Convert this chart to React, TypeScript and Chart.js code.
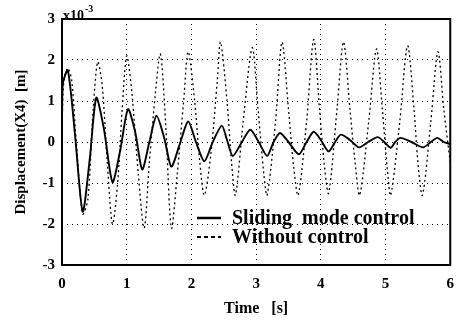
import React, { useEffect, useRef } from "react";
import { Chart, registerables } from "chart.js";

Chart.register(...registerables);

// Time [s] and displacement [x10^-3 m]
const timeSliding = [
  0, 0.01, 0.09, 0.2, 0.32, 0.43, 0.53, 0.65, 0.78, 0.9, 1.02, 1.13, 1.24, 1.35, 1.46, 1.58, 1.69, 1.82,
  1.95, 2.07, 2.2, 2.33, 2.47, 2.55, 2.64, 2.78, 2.91, 3.04, 3.17, 3.27, 3.37, 3.5, 3.66, 3.78, 3.89, 4.0,
  4.12, 4.22, 4.31, 4.45, 4.59, 4.73, 4.88, 4.98, 5.08, 5.15, 5.23, 5.4, 5.58, 5.7, 5.8, 5.9, 6.0,
];
const valuesSliding = [
  0.4, 1.4, 1.75, 0.2, -1.7, -0.4, 1.08, 0.3, -0.98, -0.2, 0.8, 0.25, -0.67, 0.0, 0.64, 0.1, -0.6, -0.05,
  0.5, 0.0, -0.47, 0.0, 0.4, 0.05, -0.34, 0.0, 0.3, 0.0, -0.34, 0.0, 0.22, 0.0, -0.3, 0.0, 0.25, 0.05,
  -0.23, 0.0, 0.18, 0.05, -0.13, 0.0, 0.12, 0.0, -0.14, 0.0, 0.1, 0.0, -0.13, 0.0, 0.1, 0.0, -0.05,
];

const timeWithout = [
  0, 0.03, 0.09, 0.15, 0.22, 0.32, 0.4, 0.47, 0.55, 0.62, 0.7, 0.78, 0.86, 0.93, 1.0, 1.08, 1.18, 1.27,
  1.35, 1.45, 1.52, 1.6, 1.69, 1.78, 1.88, 1.95, 2.05, 2.13, 2.2, 2.3, 2.4, 2.45, 2.55, 2.62, 2.68, 2.8,
  2.94, 3.03, 3.12, 3.17, 3.3, 3.4, 3.5, 3.58, 3.65, 3.78, 3.89, 3.98, 4.05, 4.12, 4.25, 4.35, 4.45, 4.53,
  4.6, 4.74, 4.86, 4.95, 5.03, 5.08, 5.22, 5.34, 5.44, 5.5, 5.57, 5.7, 5.81, 5.9, 6.0,
];
const valuesWithout = [
  0.4, 1.5, 1.8, 1.5, 0.0, -1.75, -1.4, 0.5, 1.95, 1.4, -0.5, -2.0, -1.0, 0.8, 2.1, 1.2, -0.8, -2.1,
  -0.5, 1.3, 2.15, 0.5, -2.1, -0.8, 1.0, 2.2, 1.0, -0.5, -1.3, -0.3, 1.5, 2.44, 1.0, -0.5, -1.3, 0.5,
  2.3, 0.8, -0.8, -1.3, 0.5, 2.44, 0.8, -0.6, -1.3, 0.5, 2.5, 0.8, -0.5, -1.25, 0.8, 2.44, 0.8, -0.5,
  -1.3, 0.5, 2.27, 0.8, -0.7, -1.3, 0.5, 2.35, 0.8, -0.5, -1.3, 0.5, 2.2, 0.8, -0.5,
];

const xTicks = [0, 1, 2, 3, 4, 5, 6];
const yTicks = [-3, -2, -1, 0, 1, 2, 3];
const seriesNames = ["Sliding  mode control", "Without control"];
const xTitle = "Time   [s]";
const yTitle = "Displacement(X4)  [m]";
const exponentBase = "x10";
const exponentPower = "-3";

const SERIF = "'Liberation Serif', 'Times New Roman', serif";

const overlayPlugin = {
  id: "overlay",
  afterDraw(chart: any) {
    const { ctx, chartArea: a } = chart;
    ctx.save();
    // frame
    ctx.strokeStyle = "#000";
    ctx.lineWidth = 2;
    ctx.setLineDash([]);
    ctx.strokeRect(a.left, a.top, a.right - a.left, a.bottom - a.top);

    // exponent label
    ctx.fillStyle = "#000";
    ctx.textBaseline = "alphabetic";
    ctx.textAlign = "left";
    ctx.font = `bold 14px ${SERIF}`;
    ctx.fillText(exponentBase, a.left + 1, a.top + 1);
    const w = ctx.measureText(exponentBase).width;
    ctx.font = `bold 10px ${SERIF}`;
    ctx.fillText(exponentPower, a.left + 2 + w, a.top - 7);

    // legend
    const ds = chart.data.datasets;
    const rows = [218, 237];
    ds.forEach((d: any, i: number) => {
      const y = rows[i];
      ctx.beginPath();
      ctx.strokeStyle = "#000";
      ctx.lineWidth = i === 0 ? 2.5 : 2;
      ctx.setLineDash(i === 0 ? [] : [4, 3]);
      ctx.moveTo(197, y);
      ctx.lineTo(221, y);
      ctx.stroke();
      ctx.setLineDash([]);
      ctx.font = `bold 20px ${SERIF}`;
      ctx.textBaseline = "middle";
      ctx.fillText(d.label, 232, y + 1);
    });
    ctx.restore();
  },
};

export default function App() {
  const ref = useRef<HTMLCanvasElement | null>(null);
  useEffect(() => {
    if (!ref.current) return;
    const chart = new Chart(ref.current, {
      type: "line",
      data: {
        datasets: [
          {
            label: seriesNames[0],
            data: timeSliding.map((t, i) => ({ x: t, y: valuesSliding[i] })),
            borderColor: "#000",
            borderWidth: 1.9,
            pointRadius: 0,
            tension: 0.25,
            fill: false,
          },
          {
            label: seriesNames[1],
            data: timeWithout.map((t, i) => ({ x: t, y: valuesWithout[i] })),
            borderColor: "#000",
            borderWidth: 1.3,
            borderDash: [2, 3],
            pointRadius: 0,
            tension: 0.3,
            fill: false,
          },
        ],
      },
      options: {
        animation: false,
        responsive: false,
        layout: { padding: { top: 19, right: 8, left: 0, bottom: 0 } },
        plugins: { legend: { display: false }, tooltip: { enabled: false } },
        scales: {
          x: {
            type: "linear",
            min: 0,
            max: 6,
            afterBuildTicks: (s: any) => {
              s.ticks = xTicks.map((v) => ({ value: v }));
            },
            afterFit: (s: any) => {
              s.height = 59;
            },
            grid: { color: "#000", lineWidth: 1, drawTicks: false },
            border: { display: false, dash: [1, 4] },
            ticks: {
              color: "#000",
              padding: 10,
              font: { family: SERIF, size: 15, weight: "bold" },
              maxRotation: 0,
            },
            title: {
              display: true,
              text: xTitle,
              color: "#000",
              font: { family: SERIF, size: 16, weight: "bold" },
              padding: { top: 0, bottom: 6 },
            },
          },
          y: {
            type: "linear",
            min: -3,
            max: 3,
            afterBuildTicks: (s: any) => {
              s.ticks = yTicks.map((v) => ({ value: v }));
            },
            afterFit: (s: any) => {
              s.width = 62;
            },
            grid: { color: "#000", lineWidth: 1, drawTicks: false },
            border: { display: false, dash: [1, 4] },
            ticks: {
              color: "#000",
              padding: 7,
              font: { family: SERIF, size: 15, weight: "bold" },
            },
            title: {
              display: true,
              text: yTitle,
              color: "#000",
              font: { family: SERIF, size: 15, weight: "bold" },
              padding: { top: 12, bottom: 0 },
            },
          },
        },
      },
      plugins: [overlayPlugin],
    });
    return () => chart.destroy();
  }, []);
  return (
    <div style={{ position: "fixed", left: 0, top: 0, width: 464, height: 324, background: "#fff" }}>
      <canvas ref={ref} width={464} height={324} />
    </div>
  );
}
